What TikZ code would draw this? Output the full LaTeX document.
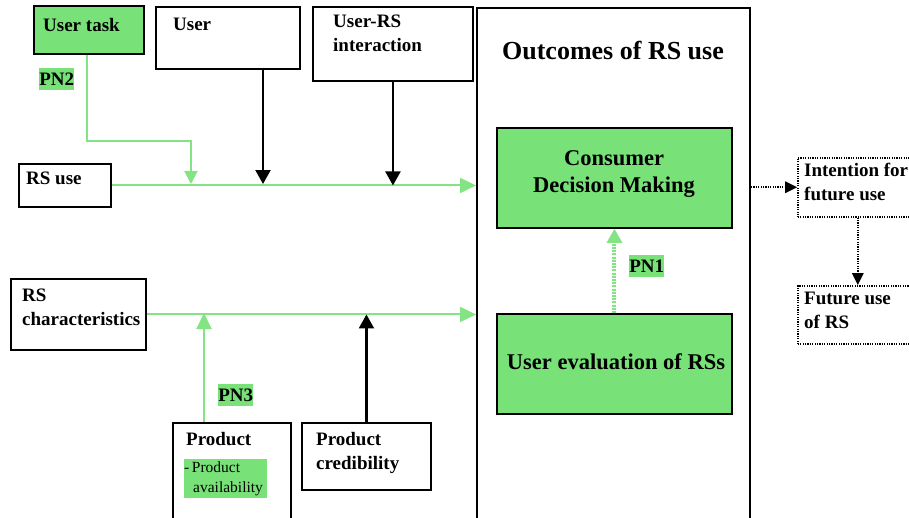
\documentclass[tikz,border=0pt]{standalone}
\usepackage{fontspec}
\setmainfont{Liberation Serif}
\usetikzlibrary{arrows.meta}
\definecolor{pgreen}{RGB}{120,226,120}
\definecolor{lgreen}{RGB}{132,228,132}

\begin{document}
\begin{tikzpicture}[x=1pt,y=-1pt,
  box/.style={draw=black, line width=1.9pt, anchor=north west, inner sep=0pt},
  gbox/.style={box, fill=pgreen},
  dbox/.style={draw=black, dash pattern=on 1.2pt off 1.2pt, line width=1.5pt, anchor=north west, inner sep=0pt},
  lbl/.style={anchor=north west, inner sep=0pt, align=left, font=\fontsize{19}{24}\selectfont\bfseries},
  tag/.style={anchor=north west, fill=pgreen, inner sep=0pt, minimum width=35pt, minimum height=22pt, font=\fontsize{19}{24}\selectfont\bfseries},
  blk/.style={draw=black, line width=2.2pt, -{Triangle[length=14pt,width=15pt]}},
  grn/.style={draw=lgreen, line width=2pt, -{Triangle[length=16pt,width=15pt]}},
  grnsm/.style={draw=lgreen, line width=2pt, -{Triangle[length=13pt,width=13pt]}},
  dotarr/.style={draw=black, dash pattern=on 1.2pt off 1.2pt, line width=1.6pt, -{Triangle[length=12pt,width=12pt,line width=0pt, fill=black]}},
]
\useasboundingbox (0,0) rectangle (909,517);
\fill[white] (0,0) rectangle (909,517);
\clip (0,0) rectangle (909,517);

% boxes
\node[gbox, minimum width=110pt, minimum height=48pt] (utask) at (33,5) {};
\node[box, minimum width=144pt, minimum height=62pt] (user) at (155,6) {};
\node[box, minimum width=160pt, minimum height=74pt] (inter) at (312,6) {};
\node[box, minimum width=273pt, minimum height=530pt] (outc) at (476,7) {};
\node[box, minimum width=92pt, minimum height=43pt] (rsuse) at (18,163) {};
\node[box, minimum width=135pt, minimum height=71pt] (rschar) at (10,278) {};
\node[box, minimum width=118pt, minimum height=120pt] (prod) at (172,422) {};
\node[box, minimum width=129pt, minimum height=67pt] (cred) at (301,422) {};
\node[gbox, minimum width=235pt, minimum height=100pt] (cdm) at (496,127) {};
\node[gbox, minimum width=235pt, minimum height=100pt] (ueval) at (496,313) {};
\node[dbox, minimum width=120pt, minimum height=59pt] (intent) at (797,157) {};
\node[dbox, minimum width=120pt, minimum height=58pt] (future) at (797,285) {};

% texts
\node[lbl] (t-utask) at (43,18) {User task};
\node[lbl] (t-user) at (173,18) {User};
\node[lbl] (t-inter) at (333,15) {User-RS\\interaction};
\node[lbl] (t-rsuse) at (26,172) {RS use};
\node[lbl] (t-rschar) at (22,289) {RS\\characteristics};
\node[lbl] (t-prod) at (186,432) {Product};
\node[lbl] (t-cred) at (316,432) {Product\\credibility};
\node[lbl] (t-intent) at (804,163) {Intention for\\future use};
\node[lbl] (t-future) at (804,292) {Future use\\of RS};
\node[anchor=base, inner sep=0pt, font=\fontsize{26}{30}\selectfont\bfseries] (title) at (613,59) {Outcomes of RS use};
\node[anchor=north, inner sep=0pt, align=center, font=\fontsize{22.5}{27}\selectfont\bfseries] (t-cdm) at (614,150) {Consumer\\Decision Making};
\node[anchor=north, inner sep=0pt, font=\fontsize{22.5}{27}\selectfont\bfseries] (t-ueval) at (616,353) {User evaluation of RSs};
\node[anchor=north west, fill=pgreen, inner sep=0pt, text width=83pt, minimum height=39pt, align=left, font=\fontsize{15.5}{20}\selectfont] (avail) at (184,459) {-\,Product\\\hspace*{9pt}availability};

% tags
\node[tag] (pn2) at (39,68) {PN2};
\node[tag] (pn3) at (218,384) {PN3};
\node[tag] (pn1) at (629,255) {PN1};

% junction points
\coordinate (j1) at (191,184);
\coordinate (j2) at (263,184);
\coordinate (j3) at (204,313);

% connectors
\draw[grn] (rsuse.east) -- (rsuse.east -| outc.west);
\draw[grn] (rschar.east) -- (rschar.east -| outc.west);
\draw[grnsm] ([xshift=-2pt]utask.south) -- ++(0,86) -| (j1);
\draw[grn] (prod.north -| j3) -- (j3);
\draw[blk] (user.south -| j2) -- (j2);
\draw[blk] (inter.south) -- (inter.south |- rsuse.east);
\draw[blk] (cred.north) -- (cred.north |- rschar.east);
\draw[draw=lgreen, line width=4pt, dash pattern=on 2pt off 1.2pt] (ueval.north) -- ([yshift=-13pt]cdm.south);
\fill[lgreen] (cdm.south) -- ++(-8,14) -- ++(16,0) -- cycle;
\draw[dotarr] (intent.west -| outc.east) -- (intent.west);
\draw[dotarr] (intent.south) -- (future.north);
\end{tikzpicture}
\end{document}
